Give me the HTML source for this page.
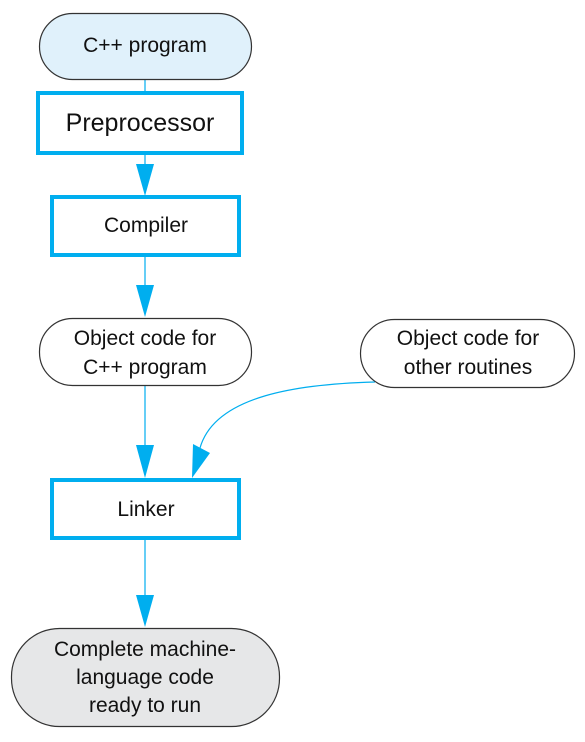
<!DOCTYPE html>
<html><head><style>
body{margin:0;background:#fff}
svg text{font-family:"Liberation Sans",sans-serif;fill:#111;text-anchor:middle}
</style></head><body>
<svg width="585" height="737" viewBox="0 0 585 737" xmlns="http://www.w3.org/2000/svg">
<g stroke="#00aeef" stroke-width="1.2" fill="none">
<line x1="145" y1="80" x2="145" y2="91"/>
<line x1="145" y1="154" x2="145" y2="170"/>
<line x1="145" y1="256" x2="145" y2="290"/>
<line x1="145" y1="386" x2="145" y2="450"/>
<line x1="145" y1="538" x2="145" y2="598"/>
<path d="M375 382 C300 384 215 395 200 448"/>
</g>
<g fill="#00aeef">
<polygon points="136,164 154,164 145,196"/>
<polygon points="136,285 154,285 145,317"/>
<polygon points="136,445 154,445 145,478"/>
<polygon points="193,444 210,453 192,478"/>
<polygon points="136,595 154,595 145,627"/>
</g>
<rect x="39.5" y="13.5" width="212" height="66" rx="33" fill="#e0f1fb" stroke="#333" stroke-width="1.2"/>
<text x="145" y="52" font-size="21">C++ program</text>
<rect x="38" y="93" width="204" height="60" fill="#fff" stroke="#00aeef" stroke-width="4"/>
<text x="140" y="131" font-size="25" fill="#222">Preprocessor</text>
<rect x="52" y="197" width="187" height="58" fill="#fff" stroke="#00aeef" stroke-width="4"/>
<text x="146" y="232" font-size="21">Compiler</text>
<rect x="39.5" y="318.5" width="212" height="67" rx="33" fill="#fff" stroke="#333" stroke-width="1.2"/>
<text x="145" y="345" font-size="21">Object code for</text>
<text x="145" y="374" font-size="21">C++ program</text>
<rect x="360.5" y="319.5" width="214" height="68" rx="34" fill="#fff" stroke="#333" stroke-width="1.2"/>
<text x="468" y="345" font-size="21">Object code for</text>
<text x="468" y="374" font-size="21">other routines</text>
<rect x="52" y="480" width="187" height="58" fill="#fff" stroke="#00aeef" stroke-width="4"/>
<text x="146" y="516" font-size="21">Linker</text>
<rect x="11.5" y="628.5" width="268" height="98" rx="48" fill="#e6e7e8" stroke="#333" stroke-width="1.2"/>
<text x="145" y="656" font-size="21">Complete machine-</text>
<text x="145" y="684" font-size="21">language code</text>
<text x="145" y="712" font-size="21">ready to run</text>
</svg>
</body></html>
